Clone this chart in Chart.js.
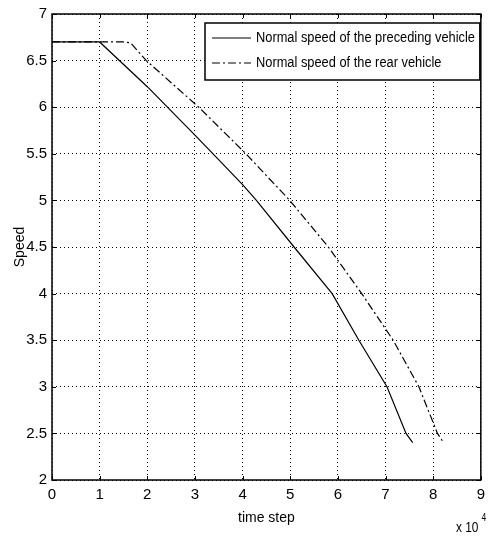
<!DOCTYPE html>
<html>
<head>
<meta charset="utf-8">
<script src="https://cdn.jsdelivr.net/npm/chart.js@4.4.1/dist/chart.umd.min.js"></script>
<style>
html,body{margin:0;padding:0;background:#fff;}
canvas{display:block;}
</style>
</head>
<body>
<canvas id="c" width="491" height="539"></canvas>
<script>
// time step (x 10^4) and speed values
const precX = [0, 1.0, 2.0, 3.0, 3.38, 4.0, 4.29, 5.08, 5.88, 6.44, 7.03, 7.43, 7.57];
const precY = [6.7, 6.7, 6.22, 5.7, 5.5, 5.17, 5.0, 4.5, 4.0, 3.5, 3.0, 2.5, 2.4];
const rearX = [0, 1.5, 1.65, 1.98, 3.08, 4.07, 4.99, 5.8, 6.5, 7.16, 7.7, 8.09, 8.22];
const rearY = [6.7, 6.7, 6.69, 6.5, 6.0, 5.5, 5.0, 4.5, 4.0, 3.5, 3.0, 2.5, 2.4];
const seriesNames = ['Normal speed of the preceding vehicle', 'Normal speed of the rear vehicle'];
const xTicks = [0,1,2,3,4,5,6,7,8,9];
const yTicks = [2,2.5,3,3.5,4,4.5,5,5.5,6,6.5,7];

const FONT = '"Liberation Sans", Arial, sans-serif';
const toPts = (xs, ys) => xs.map((x, i) => ({x, y: ys[i]}));

const boxPlugin = {
  id: 'box',
  afterDraw(chart) {
    const {ctx, chartArea: a} = chart;
    ctx.save();
    ctx.strokeStyle = '#000';
    ctx.lineWidth = 1.5;
    ctx.strokeRect(a.left, a.top, a.right - a.left, a.bottom - a.top);
    // inward tick marks
    ctx.lineWidth = 1;
    const xs = chart.scales.x, ys = chart.scales.y;
    xTicks.forEach(v => {
      const px = Math.round(xs.getPixelForValue(v)) + 0.5;
      ctx.beginPath(); ctx.moveTo(px, a.bottom); ctx.lineTo(px, a.bottom - 4);
      ctx.moveTo(px, a.top); ctx.lineTo(px, a.top + 4); ctx.stroke();
    });
    yTicks.forEach(v => {
      const py = Math.round(ys.getPixelForValue(v)) + 0.5;
      ctx.beginPath(); ctx.moveTo(a.left, py); ctx.lineTo(a.left + 4, py);
      ctx.moveTo(a.right, py); ctx.lineTo(a.right - 4, py); ctx.stroke();
    });
    // legend box
    const lx = 205, ly = 23, lw = a.right - 206, lh = 57;
    ctx.fillStyle = '#fff';
    ctx.fillRect(lx, ly, lw, lh);
    ctx.lineWidth = 1.5;
    ctx.strokeRect(lx, ly, lw, lh);
    ctx.font = '14px ' + FONT;
    ctx.fillStyle = '#000';
    ctx.textBaseline = 'middle';
    ctx.textAlign = 'left';
    const rows = [{y: 38, dash: []}, {y: 63, dash: [8, 3, 2, 3]}];
    const sx = 219 / ctx.measureText(seriesNames[0]).width;
    rows.forEach((r, i) => {
      ctx.lineWidth = 1.2;
      ctx.setLineDash(r.dash);
      ctx.beginPath(); ctx.moveTo(212, r.y); ctx.lineTo(251, r.y); ctx.stroke();
      ctx.setLineDash([]);
      ctx.save();
      ctx.translate(256, r.y);
      ctx.scale(sx, 1);
      ctx.fillText(seriesNames[i], 0, 0);
      ctx.restore();
    });
    // x 10^4 multiplier
    ctx.save();
    ctx.translate(456, 532);
    ctx.scale(0.85, 1);
    ctx.font = '14px ' + FONT;
    ctx.textBaseline = 'alphabetic';
    ctx.fillText('x 10', 0, 0);
    ctx.font = '10px ' + FONT;
    ctx.fillText('4', 30, -11);
    ctx.restore();
    ctx.restore();
  }
};

new Chart(document.getElementById('c'), {
  type: 'line',
  data: {
    datasets: [
      {label: seriesNames[0], data: toPts(precX, precY), borderColor: '#000', borderWidth: 1.2, pointRadius: 0, tension: 0, fill: false},
      {label: seriesNames[1], data: toPts(rearX, rearY), borderColor: '#000', borderWidth: 1.2, borderDash: [8, 3, 2, 3], pointRadius: 0, tension: 0, fill: false}
    ]
  },
  options: {
    responsive: false,
    animation: false,
    layout: {padding: {top: 14, right: 4, left: 0, bottom: 0}},
    plugins: {legend: {display: false}, tooltip: {enabled: false}},
    scales: {
      x: {
        type: 'linear', min: 0, max: 9,
        afterBuildTicks: s => { s.ticks = xTicks.map(v => ({value: v})); },
        afterFit: s => { s.height = 59; },
        ticks: {color: '#000', font: {family: FONT, size: 15}, padding: 6, callback: v => String(v)},
        grid: {color: '#000', lineWidth: 1, drawTicks: false},
        border: {display: false, dash: [1, 3]},
        title: {display: true, text: 'time step', color: '#000', font: {family: FONT, size: 14}, padding: {top: 0, bottom: 12}}
      },
      y: {
        type: 'linear', min: 2, max: 7,
        afterBuildTicks: s => { s.ticks = yTicks.map(v => ({value: v})); },
        afterFit: s => { s.width = 52; },
        ticks: {color: '#000', font: {family: FONT, size: 15}, padding: 5, callback: v => String(v)},
        grid: {color: '#000', lineWidth: 1, drawTicks: false},
        border: {display: false, dash: [1, 3]},
        title: {display: true, text: 'Speed', color: '#000', font: {family: FONT, size: 14}, padding: {top: 12, bottom: 0}}
      }
    }
  },
  plugins: [boxPlugin]
});
</script>
</body>
</html>
